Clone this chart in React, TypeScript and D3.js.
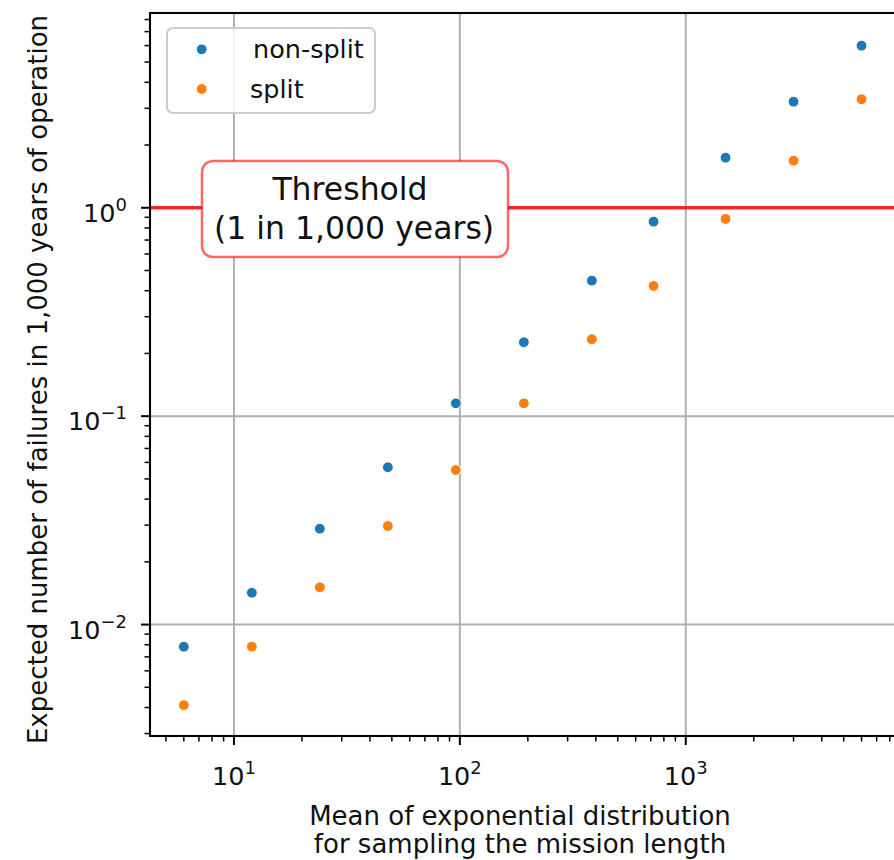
import React from 'react';
import * as d3 from 'd3';

// ---- data ----
const MEANS = [6, 12, 24, 48, 96, 192, 384, 720, 1500, 3000, 6000];
const NON_SPLIT = [0.00783, 0.01422, 0.02884, 0.05686, 0.1153, 0.2263, 0.447, 0.858, 1.739, 3.229, 5.996];
const SPLIT = [0.00411, 0.00783, 0.0151, 0.02972, 0.05517, 0.1153, 0.2339, 0.4215, 0.8838, 1.683, 3.317];
const SERIES_NAMES = ['non-split', 'split'];
const SERIES_COLORS = ['#1f77b4', '#ff7f0e'];
const X_TICKS = [10, 100, 1000];
const Y_TICKS = [0.01, 0.1, 1];
const X_DOMAIN = [4.25, 8700];
const Y_DOMAIN = [0.00292, 8.6];
const THRESHOLD = 1;
const THRESHOLD_LINES = ['Threshold', '(1 in 1,000 years)'];
const X_LABEL = ['Mean of exponential distribution', 'for sampling the mission length'];
const Y_LABEL = 'Expected number of failures in 1,000 years of operation';

const W = 894;
const H = 860;
const P = { left: 150, right: 898, top: 13, bottom: 736 };
const FONT = 'DejaVu Sans';

function isPow10(v: number) {
  const l = Math.log10(v);
  return Math.abs(l - Math.round(l)) < 1e-9;
}
function expStr(v: number) {
  const e = Math.round(Math.log10(v));
  return e < 0 ? '\u2212' + Math.abs(e) : String(e);
}

export default function App() {
  const x = d3.scaleLog().domain(X_DOMAIN).range([P.left, P.right]);
  const y = d3.scaleLog().domain(Y_DOMAIN).range([P.bottom, P.top]);
  const xMinor = x.ticks().filter((v) => !isPow10(v));
  const yMinor = y.ticks().filter((v) => !isPow10(v));
  const series = [NON_SPLIT, SPLIT];

  const box = { x: 202, y: 161, w: 306, h: 96 };
  const legend = { x: 167, y: 28, w: 208, h: 85 };

  return (
    <svg width={W} height={H} style={{ position: 'absolute', left: 0, top: 0 }} fontFamily={FONT}>
      <rect x={0} y={0} width={W} height={H} fill="#fff" />
      <defs>
        <clipPath id="plot">
          <rect x={P.left} y={P.top} width={P.right - P.left} height={P.bottom - P.top} />
        </clipPath>
      </defs>
      {/* grid */}
      <g stroke="#b0b0b0" strokeWidth={2}>
        {X_TICKS.map((t) => (
          <line key={'gx' + t} x1={x(t)} x2={x(t)} y1={P.top} y2={P.bottom} />
        ))}
        {Y_TICKS.map((t) => (
          <line key={'gy' + t} x1={P.left} x2={P.right} y1={y(t)} y2={y(t)} />
        ))}
      </g>
      {/* points */}
      <g clipPath="url(#plot)">
        {series.map((vals, si) =>
          vals.map((v, i) => (
            <circle
              key={si + '-' + i}
              cx={x(MEANS[i])}
              cy={y(v)}
              r={5.4}
              fill={SERIES_COLORS[si]}
              stroke="#fff"
              strokeWidth={1}
            />
          ))
        )}
        <line
          x1={P.left}
          x2={P.right}
          y1={y(THRESHOLD)}
          y2={y(THRESHOLD)}
          stroke="#ff0000"
          strokeOpacity={0.8}
          strokeWidth={3.5}
        />
      </g>
      {/* spines */}
      <rect
        x={P.left}
        y={P.top}
        width={P.right - P.left}
        height={P.bottom - P.top}
        fill="none"
        stroke="#000"
        strokeWidth={2.1}
      />
      {/* ticks */}
      <g stroke="#000">
        {X_TICKS.map((t) => (
          <line key={'tx' + t} x1={x(t)} x2={x(t)} y1={P.bottom} y2={P.bottom + 9} strokeWidth={2} />
        ))}
        {xMinor.map((t) => (
          <line key={'mx' + t} x1={x(t)} x2={x(t)} y1={P.bottom} y2={P.bottom + 5.5} strokeWidth={1.5} />
        ))}
        {Y_TICKS.map((t) => (
          <line key={'ty' + t} x1={P.left - 9} x2={P.left} y1={y(t)} y2={y(t)} strokeWidth={2} />
        ))}
        {yMinor.map((t) => (
          <line key={'my' + t} x1={P.left - 5.5} x2={P.left} y1={y(t)} y2={y(t)} strokeWidth={1.5} />
        ))}
      </g>
      {/* tick labels */}
      <g fill="#111" fontSize={25.5}>
        {X_TICKS.map((t) => (
          <text key={'lx' + t} x={x(t)} y={P.bottom + 49} textAnchor="middle">
            <tspan>10</tspan>
            <tspan fontSize={18} dy={-11}>{expStr(t)}</tspan>
          </text>
        ))}
        {Y_TICKS.map((t) => (
          <text key={'ly' + t} x={127} y={y(t) + 14} textAnchor="end">
            <tspan>10</tspan>
            <tspan fontSize={18} dy={-11}>{expStr(t)}</tspan>
          </text>
        ))}
      </g>
      {/* axis labels */}
      <g fill="#111" fontSize={26}>
        <text x={(P.left + P.right) / 2 - 4} y={825} textAnchor="middle">{X_LABEL[0]}</text>
        <text x={(P.left + P.right) / 2 - 4} y={852.5} textAnchor="middle">{X_LABEL[1]}</text>
        <text transform={`translate(47, ${(P.top + P.bottom) / 2 + 5}) rotate(-90)`} textAnchor="middle">
          {Y_LABEL}
        </text>
      </g>
      {/* threshold annotation */}
      <rect
        x={box.x}
        y={box.y}
        width={box.w}
        height={box.h}
        rx={11}
        fill="#fff"
        stroke="#ff0000"
        strokeOpacity={0.6}
        strokeWidth={2.5}
      />
      <g fill="#111" fontSize={31.5} textAnchor="middle">
        <text x={350} y={199.5}>{THRESHOLD_LINES[0]}</text>
        <text x={354} y={238.5}>{THRESHOLD_LINES[1]}</text>
      </g>
      {/* legend */}
      <rect
        x={legend.x}
        y={legend.y}
        width={legend.w}
        height={legend.h}
        rx={6}
        fill="#fff"
        fillOpacity={0.8}
        stroke="#cccccc"
        strokeWidth={2}
      />
      {SERIES_NAMES.map((n, i) => (
        <g key={n}>
          <circle cx={201.7} cy={49.3 + i * 39.7} r={5.4} fill={SERIES_COLORS[i]} stroke="#fff" strokeWidth={1} />
          <text x={i === 0 ? 253 : 250} y={58 + i * 39.5} fontSize={25.5} fill="#111">
            {n}
          </text>
        </g>
      ))}
    </svg>
  );
}
